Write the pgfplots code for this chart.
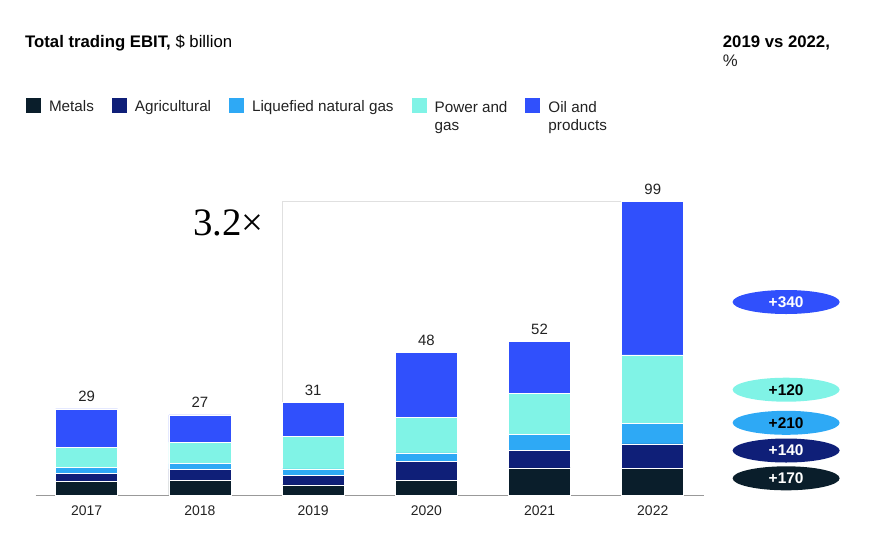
\documentclass[border=0pt]{standalone}
\usepackage{fontspec}
\setmainfont{Liberation Sans}
\newfontfamily\serifnum{Liberation Serif}
\usepackage{pgfplots}
\pgfplotsset{compat=1.18}
\usepackage{pgfplotstable}
\usetikzlibrary{shapes.geometric}

\definecolor{metalc}{HTML}{0A1E2B}
\definecolor{agric}{HTML}{0F1F78}
\definecolor{lngc}{HTML}{2EA9F5}
\definecolor{powerc}{HTML}{80F3E6}
\definecolor{oilc}{HTML}{3050FC}
\definecolor{txt}{HTML}{222222}

\newcommand\headfont{\fontsize{16.8}{19}\selectfont}
\newcommand\legfont{\fontsize{15.3}{18}\selectfont}
\newcommand\tickfont{\fontsize{14}{16}\selectfont}
\newcommand\valfont{\fontsize{15}{17}\selectfont}
\newcommand\pillfont{\fontsize{15.5}{17}\selectfont}
\newcommand\bigfont{\fontsize{39}{42}\selectfont}

% year index, segments ($ billion), stack height, printed total
\pgfplotstableread{
x  M   A   L   P    O    S    T
0  4.7 2.7 1.9 6.6  13.1 29.0 29
1  4.9 3.8 1.9 7.2  9.2  27.0 27
2  3.4 3.3 2.1 10.8 11.7 31.3 31
3  4.9 6.3 3.0 11.9 21.9 48.0 48
4  9.1 5.8 5.5 13.7 17.6 51.7 52
5  9.0 8.2 6.8 23.2 51.7 98.9 99
}\ebit

\tikzset{pill/.style={ellipse, minimum width=107bp, minimum height=24bp,
    inner sep=0pt, font=\pillfont\bfseries}}
\pgfplotsset{frame/.style={
  at={(35.7bp,55bp)}, anchor=south west,
  scale only axis,
  width=668bp, height=297bp,
  xmin=-0.45, xmax=5.45,
  ymin=0, ymax=100,
  bar width=62bp,
  clip=false}}

\begin{document}
\begin{tikzpicture}
\useasboundingbox (0,0) rectangle (888bp,550bp);

\node[anchor=base west, inner sep=0, text=black] at (25bp,502bp)
  {\headfont\textbf{Total trading EBIT,} \$ billion};
\node[anchor=base west, inner sep=0, text=black] at (722.7bp,502bp)
  {\headfont\textbf{2019 vs 2022,}};
\node[anchor=base west, inner sep=0, text=txt] at (722.7bp,483.3bp)
  {\headfont \%};

\begin{axis}[
  frame,
  ybar stacked,
  axis y line=none,
  axis x line*=bottom,
  x axis line style={draw=black!40, line width=0.8bp},
  xtick={0,...,5},
  xticklabels={2017,2018,2019,2020,2021,2022},
  major tick length=0pt,
  xticklabel style={font=\tickfont, text=txt, yshift=-7bp},
  every axis plot/.append style={draw=white, line width=0.6bp},
  legend image code/.code={\fill[#1,draw=none] (0bp,-6bp) rectangle (15bp,9bp);},
  legend columns=5,
  legend cell align=left,
  legend style={
    at={(-0.0145,1.3377)}, anchor=north west,
    draw=none, fill=none, inner sep=0pt, outer sep=0pt,
    font=\legfont,
    text=txt,
    /tikz/every odd column/.append style={column sep=6bp},
    /tikz/every even column/.append style={column sep=16bp},
  },
]
\addplot[fill=metalc] table[x=x, y=M] {\ebit};
\addlegendentry{Metals}
\addplot[fill=agric] table[x=x, y=A] {\ebit};
\addlegendentry{Agricultural}
\addplot[fill=lngc] table[x=x, y=L] {\ebit};
\addlegendentry{Liquefied natural gas}
\addplot[fill=powerc] table[x=x, y=P] {\ebit};
\addlegendentry{\begin{tabular}[t]{@{}l@{}}Power and\\gas\end{tabular}}
\addplot[fill=oilc] table[x=x, y=O] {\ebit};
\addlegendentry{\begin{tabular}[t]{@{}l@{}}Oil and\\products\end{tabular}}

% 2019 -> 2022 bracket
\draw[black!12, line width=0.9bp] (axis cs:1.726,31.3) -- (axis cs:1.726,98.9) -- (axis cs:4.726,98.9);
\node[anchor=base east, inner sep=0, text=black] at (axis cs:1.567,87.5)
  {\serifnum\bigfont 3.2×};

% change 2019 vs 2022 by segment
\node[pill, fill=oilc, text=white] at (axis cs:6.178,64.98) {+340};
\node[pill, fill=powerc, text=black] at (axis cs:6.178,35.45) {+120};
\node[pill, fill=lngc, text=black] at (axis cs:6.178,24.31) {+210};
\node[pill, fill=agric, text=white] at (axis cs:6.178,14.98) {+140};
\node[pill, fill=metalc, text=white] at (axis cs:6.178,5.62) {+170};
\end{axis}

% totals above the stacks
\begin{axis}[
  frame,
  hide axis,
  ybar,
  /pgf/number format/assume math mode=true,
]
\addplot[draw=none, fill=none,
  point meta=explicit,
  nodes near coords,
  every node near coord/.append style={anchor=base, inner sep=0pt, yshift=7bp,
    text=txt, font=\valfont},
] table[x=x, y=S, meta=T] {\ebit};
\end{axis}
\end{tikzpicture}
\end{document}
